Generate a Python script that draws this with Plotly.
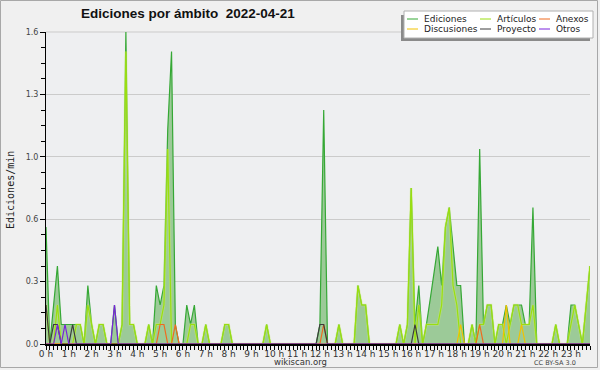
import plotly.graph_objects as go

# ---------------- data (10-minute bins, edits per minute) ----------------
hour_labels = [f"{h} h" for h in range(24)]
y_tick_vals = [0, 0.32, 0.64, 0.96, 1.28, 1.6]
y_tick_text = ["0.0", "0.3", "0.6", "1.0", "1.3", "1.6"]
series_names = ["Ediciones", "Artículos", "Anexos", "Discusiones", "Proyecto", "Otros"]

ediciones = [
    0.6, 0, 0.2, 0.4, 0.1, 0.1, 0.1, 0.1, 0.1, 0.1, 0, 0.3,
    0.1, 0, 0.1, 0.1, 0, 0, 0.2, 0, 0.1, 1.6, 0.1, 0.1,
    0, 0, 0, 0.1, 0, 0.3, 0.2, 0.3, 1.1, 1.5, 0.1, 0,
    0, 0.2, 0.1, 0.2, 0, 0, 0.1, 0, 0, 0, 0, 0.1,
    0.1, 0, 0, 0, 0, 0, 0, 0, 0, 0, 0.1, 0,
    0, 0, 0, 0, 0, 0, 0, 0, 0, 0, 0, 0,
    0.1, 1.2, 0, 0, 0, 0.1, 0, 0, 0, 0, 0.3, 0.2,
    0.2, 0, 0, 0, 0, 0, 0, 0, 0, 0.1, 0, 0.1,
    0.8, 0.1, 0.3, 0, 0.1, 0.23, 0.37, 0.5, 0.3, 0.6, 0.7, 0.5,
    0.3, 0.3, 0, 0, 0.1, 0, 1.0, 0.1, 0.2, 0.2, 0, 0.1,
    0.1, 0.2, 0.1, 0.2, 0.2, 0.2, 0.1, 0.1, 0.7, 0, 0, 0,
    0, 0, 0.1, 0, 0, 0, 0.2, 0.2, 0.1, 0, 0.2, 0.4,
]
articulos = [
    0.2, 0, 0, 0.2, 0, 0, 0, 0, 0.1, 0.1, 0, 0.2,
    0.1, 0, 0.1, 0.1, 0, 0, 0, 0, 0.1, 1.5, 0.1, 0.1,
    0, 0, 0, 0.1, 0, 0.1, 0.1, 0.2, 1.0, 0, 0, 0,
    0, 0, 0.1, 0.1, 0, 0, 0.1, 0, 0, 0, 0, 0.1,
    0.1, 0, 0, 0, 0, 0, 0, 0, 0, 0, 0.1, 0,
    0, 0, 0, 0, 0, 0, 0, 0, 0, 0, 0, 0,
    0, 0, 0, 0, 0, 0.1, 0, 0, 0, 0, 0.3, 0.2,
    0.2, 0, 0, 0, 0, 0, 0, 0, 0, 0.1, 0, 0.1,
    0.8, 0, 0.2, 0, 0.1, 0.1, 0.1, 0.1, 0.2, 0.6, 0.7, 0.3,
    0.2, 0, 0, 0, 0.1, 0, 0.1, 0.1, 0.2, 0.2, 0, 0.1,
    0.1, 0, 0.1, 0.2, 0.2, 0.1, 0.1, 0.1, 0.2, 0, 0, 0,
    0, 0, 0.1, 0, 0, 0, 0.1, 0.2, 0.1, 0, 0.2, 0.4,
]
anexos = [
    0, 0, 0, 0, 0, 0, 0, 0, 0, 0, 0, 0,
    0, 0, 0, 0, 0, 0, 0, 0, 0, 0, 0, 0,
    0, 0, 0, 0, 0, 0, 0.1, 0.1, 0, 0, 0.1, 0,
    0, 0, 0, 0, 0, 0, 0, 0, 0, 0, 0, 0,
    0, 0, 0, 0, 0, 0, 0, 0, 0, 0, 0, 0,
    0, 0, 0, 0, 0, 0, 0, 0, 0, 0, 0, 0,
    0, 0.1, 0, 0, 0, 0, 0, 0, 0, 0, 0, 0,
    0, 0, 0, 0, 0, 0, 0, 0, 0, 0, 0, 0,
    0, 0, 0, 0, 0, 0, 0, 0, 0, 0, 0, 0,
    0, 0, 0, 0, 0, 0, 0.1, 0, 0, 0, 0, 0,
    0, 0, 0, 0, 0, 0, 0, 0, 0, 0, 0, 0,
    0, 0, 0, 0, 0, 0, 0, 0, 0, 0, 0, 0,
]
discusiones = [
    0, 0, 0, 0, 0, 0, 0, 0, 0, 0, 0, 0,
    0, 0, 0, 0, 0, 0, 0, 0, 0, 0, 0, 0,
    0, 0, 0, 0, 0, 0, 0, 0, 0, 0, 0, 0,
    0, 0, 0, 0, 0, 0, 0, 0, 0, 0, 0, 0,
    0, 0, 0, 0, 0, 0, 0, 0, 0, 0, 0, 0,
    0, 0, 0, 0, 0, 0, 0, 0, 0, 0, 0, 0,
    0, 0, 0, 0, 0, 0, 0, 0, 0, 0, 0, 0,
    0, 0, 0, 0, 0, 0, 0, 0, 0, 0, 0, 0,
    0, 0, 0, 0, 0, 0, 0, 0, 0, 0, 0, 0,
    0, 0.1, 0, 0, 0, 0, 0, 0, 0, 0, 0, 0,
    0, 0.2, 0, 0, 0, 0.1, 0, 0, 0, 0, 0, 0,
    0, 0, 0, 0, 0, 0, 0, 0, 0, 0, 0, 0,
]
proyecto = [
    0.2, 0, 0.1, 0.1, 0, 0, 0, 0.1, 0, 0, 0, 0,
    0, 0, 0, 0, 0, 0, 0, 0, 0, 0, 0, 0,
    0, 0, 0, 0, 0, 0, 0, 0, 0, 0, 0, 0,
    0, 0, 0, 0, 0, 0, 0, 0, 0, 0, 0, 0,
    0, 0, 0, 0, 0, 0, 0, 0, 0, 0, 0, 0,
    0, 0, 0, 0, 0, 0, 0, 0, 0, 0, 0, 0,
    0.1, 0.1, 0, 0, 0, 0, 0, 0, 0, 0, 0, 0,
    0, 0, 0, 0, 0, 0, 0, 0, 0, 0, 0, 0,
    0, 0.1, 0, 0, 0, 0, 0, 0, 0, 0, 0, 0,
    0, 0, 0, 0, 0, 0, 0, 0, 0, 0, 0, 0,
    0, 0, 0, 0, 0, 0, 0, 0, 0, 0, 0, 0,
    0, 0, 0, 0, 0, 0, 0, 0, 0, 0, 0, 0,
]
otros = [
    0, 0, 0, 0.1, 0, 0.1, 0, 0, 0, 0, 0, 0,
    0, 0, 0, 0, 0, 0, 0.2, 0, 0, 0, 0, 0,
    0, 0, 0, 0, 0, 0, 0, 0, 0, 0, 0, 0,
    0, 0, 0, 0, 0, 0, 0, 0, 0, 0, 0, 0,
    0, 0, 0, 0, 0, 0, 0, 0, 0, 0, 0, 0,
    0, 0, 0, 0, 0, 0, 0, 0, 0, 0, 0, 0,
    0, 0, 0, 0, 0, 0, 0, 0, 0, 0, 0, 0,
    0, 0, 0, 0, 0, 0, 0, 0, 0, 0, 0, 0,
    0, 0, 0, 0, 0, 0, 0, 0, 0, 0, 0, 0,
    0, 0, 0, 0, 0, 0, 0, 0, 0, 0, 0, 0,
    0, 0, 0, 0, 0, 0, 0, 0, 0, 0, 0, 0,
    0, 0, 0, 0, 0, 0, 0, 0, 0, 0, 0, 0,
]

# ---------------- styling ----------------
colors = {
    "Ediciones": "#35a835",
    "Artículos": "#9ade10",
    "Anexos": "#f06a1e",
    "Discusiones": "#f2c200",
    "Proyecto": "#3c3c3c",
    "Otros": "#7a22dd",
}
fill_color = "rgba(156,202,152,1)"

W, H = 600, 370
L, R, T, B = 46, 590, 32, 344


def px(x):
    return (x - L) / (R - L)


def py(y):
    return (B - y) / (B - T)


xs = list(range(len(ediciones)))
series = {
    "Ediciones": ediciones,
    "Artículos": articulos,
    "Anexos": anexos,
    "Discusiones": discusiones,
    "Proyecto": proyecto,
    "Otros": otros,
}

fig = go.Figure()
fig.add_trace(go.Scatter(x=xs, y=ediciones, mode="lines", fill="tozeroy",
                         fillcolor=fill_color,
                         line=dict(color=colors["Ediciones"], width=1.2)))
fig.add_trace(go.Scatter(x=xs, y=articulos, mode="lines",
                         line=dict(color="rgba(205,240,110,0.45)", width=2.6)))
for name in ["Artículos", "Discusiones", "Anexos", "Proyecto", "Otros"]:
    fig.add_trace(go.Scatter(x=xs, y=series[name], mode="lines",
                             line=dict(color=colors[name], width=1.2)))

fig.update_layout(
    width=W, height=H,
    margin=dict(l=L, r=W - R, t=T, b=H - B),
    paper_bgcolor="#F0F0F0",
    plot_bgcolor="#EEEFF1",
    showlegend=False,
)
fig.update_xaxes(
    range=[0, 143], showgrid=False, zeroline=False,
    showline=True, linecolor="black", linewidth=1.5,
    ticks="outside", ticklen=4, tickcolor="black",
    tickmode="array", tickvals=list(range(0, 144, 6)), ticktext=hour_labels,
    tickfont=dict(family="DejaVu Sans", size=9, color="#333333"),
    ticklabelstandoff=-4,
    minor=dict(tickmode="linear", tick0=0, dtick=1, ticks="outside",
               ticklen=4, tickcolor="black", showgrid=False),
)
fig.update_yaxes(
    range=[0, 1.6], zeroline=False,
    showgrid=True, gridcolor="#CBCBCB", gridwidth=1,
    showline=True, linecolor="black", linewidth=1,
    ticks="outside", ticklen=5, tickcolor="black",
    tickmode="array", tickvals=y_tick_vals, ticktext=y_tick_text,
    tickfont=dict(family="DejaVu Sans", size=8, color="#444444"),
    minor=dict(tickmode="linear", tick0=0, dtick=0.08, ticks="outside",
               ticklen=4, tickcolor="black", showgrid=False),
)

shapes = []
annotations = []
# outer border
shapes.append(dict(type="rect", xref="paper", yref="paper",
                   x0=px(0.5), x1=px(597.5), y0=py(0.5), y1=py(367.5),
                   line=dict(color="#A8A8A8", width=1), fillcolor="rgba(0,0,0,0)"))
# top gridline
shapes.append(dict(type="line", xref="paper", yref="paper",
                   x0=0, x1=1, y0=1, y1=1, line=dict(color="#CBCBCB", width=1), layer="below"))
# legend shadow + box
shapes.append(dict(type="rect", xref="paper", yref="paper",
                   x0=px(401), x1=px(590), y0=py(15), y1=py(41),
                   line=dict(width=0), fillcolor="#8A8A8A"))
shapes.append(dict(type="rect", xref="paper", yref="paper",
                   x0=px(404), x1=px(593), y0=py(11), y1=py(38),
                   line=dict(color="#B0B0B0", width=1), fillcolor="white"))
legend_pos = [(407, 19), (480, 19), (539, 19), (407, 29), (480, 29), (539, 29)]
legend_order = ["Ediciones", "Artículos", "Anexos", "Discusiones", "Proyecto", "Otros"]
for name, (lx, ly) in zip(legend_order, legend_pos):
    shapes.append(dict(type="line", xref="paper", yref="paper",
                       x0=px(lx), x1=px(lx + 11), y0=py(ly), y1=py(ly),
                       line=dict(color=colors[name], width=1)))
    annotations.append(dict(xref="paper", yref="paper", x=px(lx + 15), y=py(ly),
                            text=name, showarrow=False, xanchor="left", yanchor="middle",
                            font=dict(family="DejaVu Sans", size=9, color="#222222")))

annotations.append(dict(xref="paper", yref="paper", x=px(188), y=py(14),
                        text="<b>Ediciones por ámbito\u00a0\u00a02022-04-21</b>", showarrow=False,
                        xanchor="center", yanchor="middle",
                        font=dict(family="Liberation Sans", size=13.5, color="#111111")))
annotations.append(dict(xref="paper", yref="paper", x=px(10), y=py(190),
                        text="Ediciones/min", showarrow=False, textangle=-90,
                        xanchor="center", yanchor="middle",
                        font=dict(family="DejaVu Sans Mono", size=10, color="#222222")))
annotations.append(dict(xref="paper", yref="paper", x=px(300), y=py(362),
                        text="wikiscan.org", showarrow=False,
                        xanchor="center", yanchor="middle",
                        font=dict(family="DejaVu Sans", size=8.5, color="#333333")))
annotations.append(dict(xref="paper", yref="paper", x=px(555), y=py(362.5),
                        text="CC BY-SA 3.0", showarrow=False,
                        xanchor="center", yanchor="middle",
                        font=dict(family="DejaVu Sans", size=6.5, color="#444444")))

fig.update_layout(shapes=shapes, annotations=annotations)
fig.write_html("out.html", config={"displayModeBar": False},
               post_script="document.body.style.margin='0px';document.body.style.padding='0px';")
